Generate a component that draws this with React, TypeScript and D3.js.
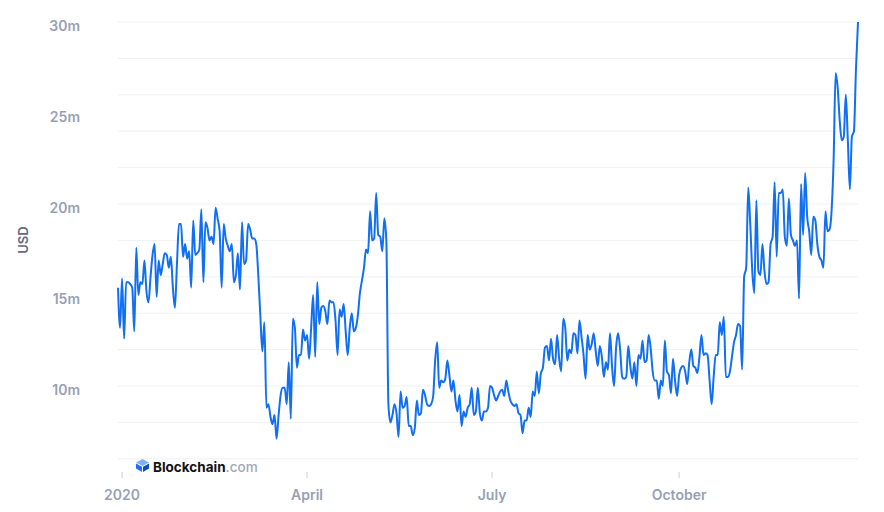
import React from "react";
import * as d3 from "d3";

// Daily values (millions USD), starting 2019-12-30
const valuesQ1: number[] = [
  15.4, 13.2, 15.9, 12.6, 15.7, 15.7, 15.6, 15.4, 13.0, 17.6,
  15.0, 15.7, 15.6, 16.9, 15.2, 14.6, 16.0, 17.2, 17.8, 14.9,
  16.9, 16.1, 16.7, 17.3, 17.2, 16.5, 17.1, 15.4, 14.3, 16.7,
  18.9, 18.9, 17.1, 17.8, 17.0, 17.4, 15.4, 19.1, 17.2, 17.3,
  17.5, 19.7, 15.7, 19.0, 18.7, 18.0, 18.2, 17.8, 19.8, 19.2,
  18.5, 15.4, 18.9, 18.1, 17.7, 17.4, 17.8, 15.7, 16.1, 17.3,
  15.3, 19.0, 16.7, 16.9, 18.9, 18.6, 18.1, 18.1, 17.8, 16.1,
  13.9, 11.9, 13.5, 8.8, 9.0, 8.3, 7.9, 8.4, 7.1, 8.4,
  9.5, 9.9, 9.9, 9.0, 11.3, 8.2, 13.7, 13.2, 11.0, 11.7,
  11.7, 13.1, 12.5, 12.8, 11.5,
];
const valuesQ2: number[] = [
  13.2, 15.0, 11.6, 15.7, 13.4, 14.3, 14.4, 14.1, 13.4, 14.7,
  14.6, 14.6, 13.6, 11.7, 14.2, 13.8, 14.5, 13.0, 11.7, 13.2,
  14.0, 13.0, 13.2, 13.9, 15.1, 15.8, 16.5, 17.5, 17.3, 19.6,
  18.0, 18.1, 20.6, 18.3, 18.2, 17.4, 19.2, 18.0,
  9.0, 8.0, 8.4, 9.0, 8.5, 7.2, 9.7, 8.8, 8.9, 9.4,
  7.8, 7.8, 7.3, 7.7, 9.2, 8.4, 8.5, 9.8, 9.5,
  9.0, 8.9, 9.0, 9.4, 11.4, 12.4, 9.9, 10.3, 10.2, 10.4,
  11.4, 10.6, 9.7, 10.3, 9.2, 8.6, 9.5, 7.8, 8.6, 8.3,
  8.8, 9.0, 9.9, 8.4, 8.6, 9.9, 8.5, 8.1, 8.6, 8.6,
  8.8, 10.0, 9.9, 9.5, 9.2,
];
const valuesQ3: number[] = [
  9.45, 9.7, 9.8, 9.45, 10.3, 9.7, 9.2, 9.0, 8.9, 9.0,
  8.5, 8.4, 7.4, 8.1, 8.1, 8.8, 8.3, 9.7, 9.45, 10.8,
  9.6, 10.7, 11.0, 12.1, 12.2, 11.4, 12.6, 11.5, 11.2, 12.8,
  11.5, 10.8, 13.7, 13.2, 11.4, 12.0, 11.8, 12.9, 12.8, 11.8,
  13.6, 12.7, 11.7, 10.4, 12.8, 12.0, 12.3, 12.9, 11.9, 11.1,
  12.2, 11.6, 10.5, 11.3, 10.9, 12.9, 11.1, 10.0, 12.1, 12.9,
  12.0, 10.5, 10.4, 10.5, 12.2, 11.1, 10.4, 11.3, 10.0,
  11.7, 11.5, 12.5, 11.3, 11.4, 12.8, 12.1, 10.8, 10.3, 10.3,
  9.3, 10.3, 10.0, 12.5, 10.8, 10.6, 9.6, 11.5, 10.3, 9.45,
  10.6, 11.0, 11.1, 10.8, 10.1, 11.3, 12.0, 11.1, 11.0, 10.7,
  11.6, 12.8, 11.7, 11.8, 11.7, 10.3, 9.0, 10.5, 11.7,
  11.7, 13.5, 12.8, 13.8, 10.5, 10.5, 10.8, 11.6, 12.4, 12.8,
  13.4,
];
const valuesQ4: number[] = [
  13.3, 10.9, 16.0, 16.5, 20.9, 18.9, 16.3, 15.1, 20.2, 16.3,
  16.1, 17.8, 16.3, 15.6, 15.7, 17.8, 18.2, 21.2, 17.1, 20.6,
  20.6, 20.8, 18.2, 17.7, 20.3, 18.3, 18.0, 17.7, 18.0, 14.8,
  21.1, 18.3, 21.7, 19.3, 18.5, 17.2, 19.3, 19.1, 17.8, 17.1,
  16.9, 16.5, 19.6, 18.5, 18.6, 19.6, 22.4, 27.2, 26.4, 24.6,
  23.5, 23.7, 26.0, 23.5, 20.8, 23.7, 24.0, 27.4, 30.0,
];

const startDate = new Date(2019, 11, 30);
const gridValues: number[] = [6, 8, 10, 12, 14, 16, 18, 20, 22, 24, 26, 28, 30];
const yTickValues: number[] = [10, 15, 20, 25, 30];
const xTickDates: Date[] = [new Date(2020, 0, 1), new Date(2020, 3, 1), new Date(2020, 6, 1), new Date(2020, 9, 1)];
const xTickLabels: string[] = ["2020", "April", "July", "October"];

const W = 884;
const H = 512;
const FONT = "Inter, 'Noto Sans', sans-serif";

export default function App() {
  const values = [...valuesQ1, ...valuesQ2, ...valuesQ3, ...valuesQ4];
  const data = values.map((v, i) => ({ date: d3.timeDay.offset(startDate, i), value: v }));
  const endDate = data[data.length - 1].date;

  const x = d3.scaleTime().domain([startDate, endDate]).range([118, 858]);
  const y = d3.scaleLinear().domain([6, 30]).range([458.8, 22]);

  const line = d3
    .line<{ date: Date; value: number }>()
    .x((d) => x(d.date))
    .y((d) => y(d.value))
    .curve(d3.curveMonotoneX);

  return (
    <svg
      width={W}
      height={H}
      style={{ position: "absolute", left: 0, top: 0, background: "#fff" }}
      fontFamily={FONT}
    >
      <g>
        {gridValues.map((g) => (
          <line key={g} x1={118} x2={858} y1={y(g)} y2={y(g)} stroke="#eff1f5" strokeWidth={1} />
        ))}
      </g>
      <g>
        {yTickValues.map((t) => (
          <text
            key={t}
            x={80}
            y={y(t) + 8.5}
            textAnchor="end"
            fontSize={14}
            fontWeight={600}
            fill="#98a1b4"
          >
            {t}m
          </text>
        ))}
      </g>
      <text
        transform={`translate(28,240) rotate(-90)`}
        textAnchor="middle"
        fontSize={13}
        fontWeight={600}
        fill="#626a7c"
      >
        USD
      </text>
      <g>
        {xTickDates.map((d, i) => (
          <g key={i}>
            <line x1={x(d)} x2={x(d)} y1={472} y2={478} stroke="#c9cdd6" strokeWidth={1} />
            <text x={x(d)} y={500} textAnchor="middle" fontSize={14} fontWeight={600} fill="#98a1b4">
              {xTickLabels[i]}
            </text>
          </g>
        ))}
      </g>
      <g transform="translate(136,459)">
        <polygon points="6.5,0 13,3.5 6.5,7 0,3.5" fill="#7fb0f7" />
        <polygon points="0,4.5 6,7.8 6,13 0,9.6" fill="#1e6ff0" />
        <polygon points="13,4.5 7,7.8 7,13 13,9.6" fill="#0a4fc2" />
      </g>
      <text x={153} y={471.5} fontSize={13.5} fontWeight={700} fill="#121212">
        Blockchain
        <tspan fill="#a0a8b8" fontWeight={500}>.com</tspan>
      </text>
      <path d={line(data) || ""} fill="none" stroke="#116ff4" strokeWidth={2} strokeLinejoin="round" />
    </svg>
  );
}
